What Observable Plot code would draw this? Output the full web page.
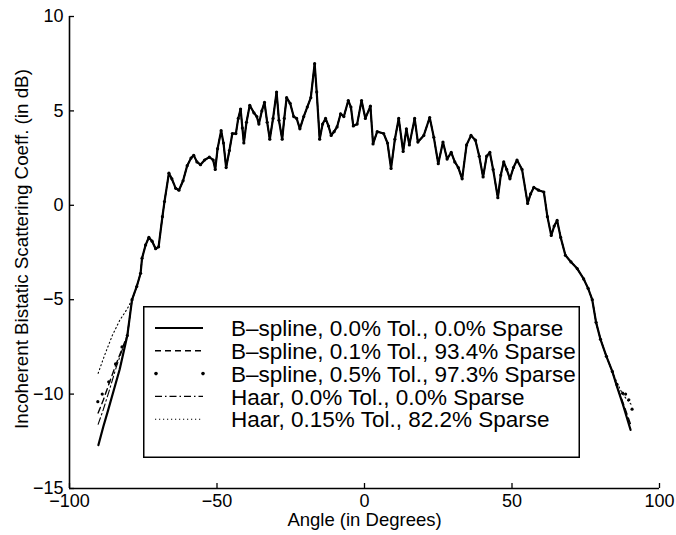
<!DOCTYPE html>
<html><head><meta charset="utf-8">
<script src="https://cdn.jsdelivr.net/npm/d3@7"></script>
<script src="https://cdn.jsdelivr.net/npm/@observablehq/plot@0.6"></script>
<style>
html,body{margin:0;padding:0;background:#fff;}
#wrap{position:relative;width:676px;height:535px;font-family:"Liberation Sans",Arial,Helvetica,sans-serif;}
#legend{position:absolute;left:143px;top:306px;}
</style></head><body><div id="wrap"></div>
<script>
// Angle (deg), coefficient (dB) — B-spline, 0.0% Tol. (reference curve)
const bsplineExact = [
[-90.2,-12.7],[-88.5,-11.7],[-87,-10.9],[-85,-9.8],[-83,-8.7],[-80.4,-6.9],[-78.8,-5.0],[-77.2,-4.3],
[-75.9,-3.6],[-75.4,-2.8],[-74.2,-2.1],[-73.1,-1.7],[-72,-1.9],[-70.8,-2.3],[-69.8,-2.2],[-68.5,-0.6],
[-67.8,0.2],[-66.3,1.7],[-65.3,1.4],[-64,0.9],[-62.9,0.8],[-61.5,1.3],[-60.1,2.1],[-58.8,2.5],
[-57.9,2.65],[-56.8,2.3],[-55.6,2.15],[-54.2,2.4],[-52.6,2.55],[-51.3,2.4],[-50.6,1.9],[-49.8,3.0],
[-48.6,3.95],[-47.8,3.3],[-46.9,2.0],[-45.8,2.9],[-44.8,3.8],[-43.6,3.8],[-42.8,4.6],[-42,5.1],
[-41.4,4.1],[-40.9,3.3],[-40,4.4],[-38.9,5.3],[-37.5,4.9],[-36.5,4.7],[-35.8,4.3],[-34.8,5.0],
[-33.9,5.45],[-33,4.4],[-32.1,3.5],[-31,4.6],[-29.8,6.0],[-29,4.5],[-27.9,3.5],[-27.2,4.6],
[-26.4,5.7],[-25.2,5.4],[-24,4.7],[-23,4.6],[-21.9,4.05],[-20.6,4.7],[-19.4,5.2],[-18.2,5.7],
[-16.9,7.5],[-16.2,6.0],[-15.2,3.5],[-14.2,4.3],[-13.2,4.6],[-12.2,4.2],[-11.3,3.7],[-10.3,3.9],
[-9.3,4.15],[-8.1,4.85],[-7,4.7],[-5.5,5.55],[-4.6,5.2],[-3.8,4.2],[-2.5,4.3],[-1.0,5.55],
[0.3,4.6],[2.0,5.25],[2.9,3.25],[4.3,3.9],[6.5,3.8],[7.8,3.3],[9.0,1.95],[10.3,3.5],
[11.6,4.6],[13.1,2.85],[14.2,4.05],[15.2,3.2],[17.0,4.6],[18.1,3.35],[20.1,3.7],[22.1,4.65],
[23.5,3.6],[25.0,2.2],[26.6,3.35],[28.0,2.45],[29.4,2.8],[30.6,2.3],[31.8,2.0],[33.1,1.4],
[34.6,3.2],[36.1,3.7],[37.6,3.45],[38.9,2.6],[40.2,1.5],[41.4,2.6],[42.5,2.8],[43.6,1.9],
[45.2,0.4],[46.2,1.6],[47.2,2.3],[48.2,1.9],[49.3,1.4],[50.5,2.0],[51.7,2.4],[53.4,1.9],
[55.3,0.1],[56.3,0.6],[57.4,0.95],[59,0.8],[60.8,0.7],[62,-0.6],[63.3,-1.6],[64.3,-1.1],
[65.3,-0.8],[66.5,-1.7],[68.1,-2.65],[70,-3.0],[72.1,-3.35],[74.3,-3.9],[75.8,-4.4],[77.2,-5.0],
[78.5,-6.2],[80,-7.1],[82,-8.0],[84,-8.8],[85.6,-9.6],[87.5,-10.5],[90.2,-11.9]
];
// Where the other curves leave the reference curve (edges of the angle range)
const bspline01Left  = [[-90.3,-11.0],[-88.5,-10.3],[-86.5,-9.4],[-84.4,-8.5],[-82.2,-7.6],[-80.4,-6.9]];
const bspline01Right = [[85.6,-9.6],[87.5,-10.4],[90.2,-11.6]];
const bspline05Left  = [[-90.4,-10.4],[-88.9,-10.0],[-86.7,-9.35],[-84.4,-8.4],[-82.2,-7.5],[-80.4,-6.9]];
const bspline05Right = [[85.6,-9.5],[87.5,-9.95],[88.5,-10.0],[89.6,-10.3],[90.7,-10.8]];
const haar0Left      = [[-90.3,-11.6],[-88.5,-10.8],[-86.5,-9.8],[-84.2,-8.6],[-82,-7.6],[-80.4,-6.9]];
const haar0Right     = [[85.6,-9.6],[87.5,-10.5],[90.2,-11.8]];
const haar15Left     = [[-90.3,-8.9],[-88,-7.9],[-85.5,-6.9],[-83,-6.1],[-80.5,-5.5],[-78.8,-5.0]];
const haar15Right    = [[84,-8.8],[85.6,-9.4],[87.5,-10.0],[89,-10.3],[90.7,-10.6]];

const xTicks = [-100, -50, 0, 50, 100];
const yTicks = [-15, -10, -5, 0, 5, 10];
const xLabel = "Angle (in Degrees)";
const yLabel = "Incoherent Bistatic Scattering Coeff. (in dB)";
const legendLabels = [
  "B\u2013spline, 0.0% Tol., 0.0% Sparse",
  "B\u2013spline, 0.1% Tol., 93.4% Sparse",
  "B\u2013spline, 0.5% Tol., 97.3% Sparse",
  "Haar, 0.0% Tol., 0.0% Sparse",
  "Haar, 0.15% Tol., 82.2% Sparse"
];

function withEdges(left, right) {
  const lo = left[left.length - 1][0], hi = right[0][0];
  return [...left, ...bsplineExact.filter(([a]) => a > lo && a < hi), ...right];
}
const bspline01 = withEdges(bspline01Left, bspline01Right);
const bspline05 = withEdges(bspline05Left, bspline05Right);
const haar0 = withEdges(haar0Left, haar0Right);
const haar15 = withEdges(haar15Left, haar15Right);

const font = '"Liberation Sans", Arial, Helvetica, sans-serif';
const W = 676, H = 535, mL = 69, mR = 17, mT = 16, mB = 47;
const pw = W - mL - mR, ph = H - mT - mB;
const X = d => d[0], Y = d => d[1];

const chart = Plot.plot({
  width: W, height: H,
  marginLeft: mL, marginRight: mR, marginTop: mT, marginBottom: mB,
  x: {domain: [-100, 100]},
  y: {domain: [-15, 10]},
  style: {fontFamily: font, background: "#fff", color: "#000", overflow: "visible"},
  marks: [
    Plot.line(haar15, {x: X, y: Y, stroke: "#000", strokeWidth: 1.1, strokeDasharray: "1.2,2.8"}),
    Plot.line(haar0, {x: X, y: Y, stroke: "#000", strokeWidth: 1.1, strokeDasharray: "7,3,1.5,3"}),
    Plot.line(bspline01, {x: X, y: Y, stroke: "#000", strokeWidth: 1.4, strokeDasharray: "6,4"}),
    Plot.line(bsplineExact, {x: X, y: Y, stroke: "#000", strokeWidth: 2.2}),
    Plot.dot(bspline05, {x: X, y: Y, r: 1.6, fill: "#000", stroke: "none"}),
    Plot.ruleX([-100], {stroke: "#000", strokeWidth: 1.6}),
    Plot.ruleY([-15], {stroke: "#000", strokeWidth: 1.6}),
    Plot.tickX(xTicks, {x: d => d, stroke: "#000", strokeWidth: 1.3, insetTop: ph - 5}),
    Plot.tickY(yTicks, {y: d => d, stroke: "#000", strokeWidth: 1.3, insetRight: pw - 5}),
    Plot.axisX(xTicks, {tickSize: 0, tickPadding: 6, fontSize: 18, label: null}),
    Plot.axisY(yTicks, {tickSize: 0, tickPadding: 6, fontSize: 18, label: null}),
    Plot.text([xLabel], {frameAnchor: "bottom", dy: 37, fontSize: 18.5, fill: "#000"})
  ]
});
const wrap = document.getElementById("wrap");
wrap.appendChild(chart);

// Rotated y-axis title
d3.select(chart).append("text")
  .attr("transform", `translate(21,${mT + ph / 2 - 3}) rotate(-90)`)
  .attr("text-anchor", "middle").attr("dy", "0.35em")
  .attr("font-family", font).attr("font-size", 18.8).attr("fill", "#000")
  .text(yLabel);

// Legend box inside the axes (MATLAB style)
const lw = 437, lh = 152;
const leg = d3.select(wrap).append("svg").attr("id", "legend")
  .attr("width", lw).attr("height", lh);
leg.append("rect").attr("x", 0.75).attr("y", 0.75).attr("width", lw - 1.5).attr("height", lh - 1.5)
  .attr("fill", "#fff").attr("stroke", "#000").attr("stroke-width", 1.5);
const styles = [
  {dash: null, w: 1.9},
  {dash: "6,4", w: 1.4},
  {dots: true},
  {dash: "7,3,1.5,3", w: 1.1},
  {dash: "1.2,2.8", w: 1.1}
];
legendLabels.forEach((lab, i) => {
  const cy = 22 + i * 22.8;
  const s = styles[i];
  if (s.dots) {
    leg.append("circle").attr("cx", 13).attr("cy", cy).attr("r", 1.8).attr("fill", "#000");
    leg.append("circle").attr("cx", 60).attr("cy", cy).attr("r", 1.8).attr("fill", "#000");
  } else {
    leg.append("line").attr("x1", 12).attr("x2", 60).attr("y1", cy).attr("y2", cy)
      .attr("stroke", "#000").attr("stroke-width", s.w).attr("stroke-dasharray", s.dash);
  }
  leg.append("text").attr("x", 88).attr("y", cy).attr("dy", "0.36em")
    .attr("font-family", font).attr("font-size", 22.5).attr("fill", "#000").text(lab);
});
</script>
</body></html>
